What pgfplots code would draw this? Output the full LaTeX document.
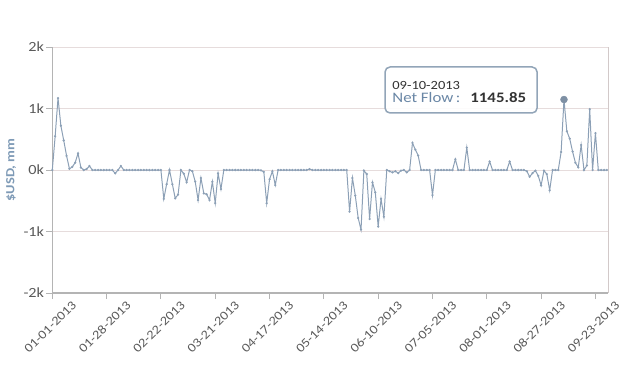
\documentclass[border=0pt]{standalone}
\usepackage{pgfplots}
\pgfplotsset{compat=1.18}
\usepackage{fontspec}
\setmainfont{Carlito}[FakeStretch=1.16]
\setsansfont{Carlito}[FakeStretch=1.16]
\definecolor{linecol}{HTML}{8CA0B6}
\definecolor{gridcol}{HTML}{E6DCDC}
\definecolor{axiscol}{HTML}{B4B4B4}
\definecolor{labcol}{HTML}{5A5A5A}
\definecolor{ylabcol}{HTML}{7E9AB6}
\definecolor{tipcol}{HTML}{92A5B8}
\definecolor{nfcol}{HTML}{6A87A6}
\begin{document}
\begin{tikzpicture}
\useasboundingbox (-52.3pt,-74pt) rectangle (567.7pt,293pt);
\begin{axis}[
  at={(0,0)}, anchor=south west,
  scale only axis, width=555.7pt, height=246pt,
  xmin=0, xmax=194.4, ymin=-2000, ymax=2000,
  xtick={0,19,38,57,76,95,114,133,152,171,190},
  xticklabels={01-01-2013,01-28-2013,02-22-2013,03-21-2013,04-17-2013,05-14-2013,06-10-2013,07-05-2013,08-01-2013,08-27-2013,09-23-2013},
  ytick={-2000,-1000,0,1000,2000},
  yticklabels={-2k,-1k,0k,1k,2k},
  tick align=outside, major tick length=6pt,
  xtick pos=bottom, ytick pos=left,
  tick style={axiscol, line width=1pt},
  axis line style={draw=none},
  ymajorgrids, grid style={gridcol, line width=1pt},
  xticklabel style={xshift=-2pt, yshift=-28pt, rotate=45, anchor=center, font=\fontsize{12.5}{14}\selectfont, text=labcol},
  yticklabel style={font=\fontsize{14}{16}\selectfont, text=labcol, inner sep=2pt},
  ylabel={\bfseries \$USD, mm},
  ylabel style={at={(axis description cs:-0.074,0.5)}, anchor=center, font=\fontsize{12.5}{14}\selectfont, text=ylabcol},
  clip=false,
]
\draw[gridcol, line width=1pt] (rel axis cs:0,1) -- (rel axis cs:1,1);
\draw[gridcol!80!gray, line width=1pt] (rel axis cs:1,0) -- (rel axis cs:1,1);
\draw[axiscol, line width=1.2pt] (rel axis cs:0,1) -- (rel axis cs:0,0) -- (rel axis cs:1,0);
\addplot[linecol, line width=1pt, mark=*, mark size=0.55pt, mark options={fill=linecol, draw=linecol}] coordinates {
(0,0)(1,550)(2,1170)(3,720)(4,480)(5,230)(6,20)(7,50)(8,120)(9,270)
(10,40)(11,0)(12,15)(13,65)(14,0)(15,0)(16,0)(17,0)(18,0)(19,0)
(20,0)(21,0)(22,-55)(23,0)(24,65)(25,0)(26,0)(27,0)(28,0)(29,0)
(30,0)(31,0)(32,0)(33,0)(34,0)(35,0)(36,0)(37,0)(38,0)(39,-470)
(40,-230)(41,0)(42,-230)(43,-460)(44,-400)(45,0)(46,-60)(47,-200)(48,0)(49,-20)
(50,-190)(51,-490)(52,-130)(53,-380)(54,-395)(55,-490)(56,-190)(57,-540)(58,-55)(59,-310)
(60,0)(61,0)(62,0)(63,0)(64,0)(65,0)(66,0)(67,0)(68,0)(69,0)
(70,0)(71,0)(72,0)(73,-5)(74,-30)(75,-540)(76,-150)(77,-20)(78,-245)(79,0)
(80,0)(81,0)(82,0)(83,0)(84,0)(85,0)(86,0)(87,0)(88,0)(89,0)
(90,15)(91,0)(92,0)(93,0)(94,0)(95,0)(96,0)(97,0)(98,0)(99,0)
(100,0)(101,0)(102,0)(103,0)(104,-677)(105,-130)(106,-417)(107,-780)(108,-970)(109,-10)
(110,-65)(111,-797)(112,-200)(113,-363)(114,-921)(115,-470)(116,-760)(117,0)(118,-20)(119,-40)
(120,-20)(121,-50)(122,-10)(123,0)(124,-40)(125,0)(126,440)(127,330)(128,235)(129,0)
(130,0)(131,0)(132,0)(133,-410)(134,0)(135,0)(136,0)(137,0)(138,0)(139,0)
(140,0)(141,175)(142,0)(143,0)(144,0)(145,365)(146,0)(147,0)(148,0)(149,0)
(150,0)(151,0)(152,0)(153,137)(154,0)(155,0)(156,0)(157,0)(158,0)(159,0)
(160,137)(161,0)(162,0)(163,0)(164,0)(165,0)(166,-20)(167,-110)(168,-50)(169,-10)
(170,-95)(171,-250)(172,-10)(173,-67)(174,-330)(175,0)(176,0)(177,0)(178,294)(179,1145.85)
(180,630)(181,510)(182,300)(183,117)(184,44)(185,406)(186,0)(187,72)(188,990)(189,0)
(190,600)(191,0)(192,0)(193,0)(194,0)
};
\addplot[only marks, mark=*, mark size=3.5pt, color=linecol!90!black] coordinates {(179,1145.85)};
\draw[tipcol, line width=1.5pt, rounded corners=5pt, fill=white, fill opacity=0.9]
  (axis cs:116.4,927) rectangle (axis cs:169.6,1675);
\node[anchor=base west, inner sep=0pt, font=\fontsize{12.5}{14}\selectfont, text=black!80] at (axis cs:118.9,1312) {09-10-2013};
\node[anchor=base west, inner sep=0pt, font=\fontsize{14.5}{16}\selectfont, text=nfcol] at (axis cs:118.9,1094) {Net Flow\,:};
\node[anchor=base west, inner sep=0pt, font=\bfseries\fontsize{14.5}{16}\selectfont, text=black!80] at (axis cs:146.2,1094) {1145.85};
\end{axis}
\end{tikzpicture}
\end{document}
